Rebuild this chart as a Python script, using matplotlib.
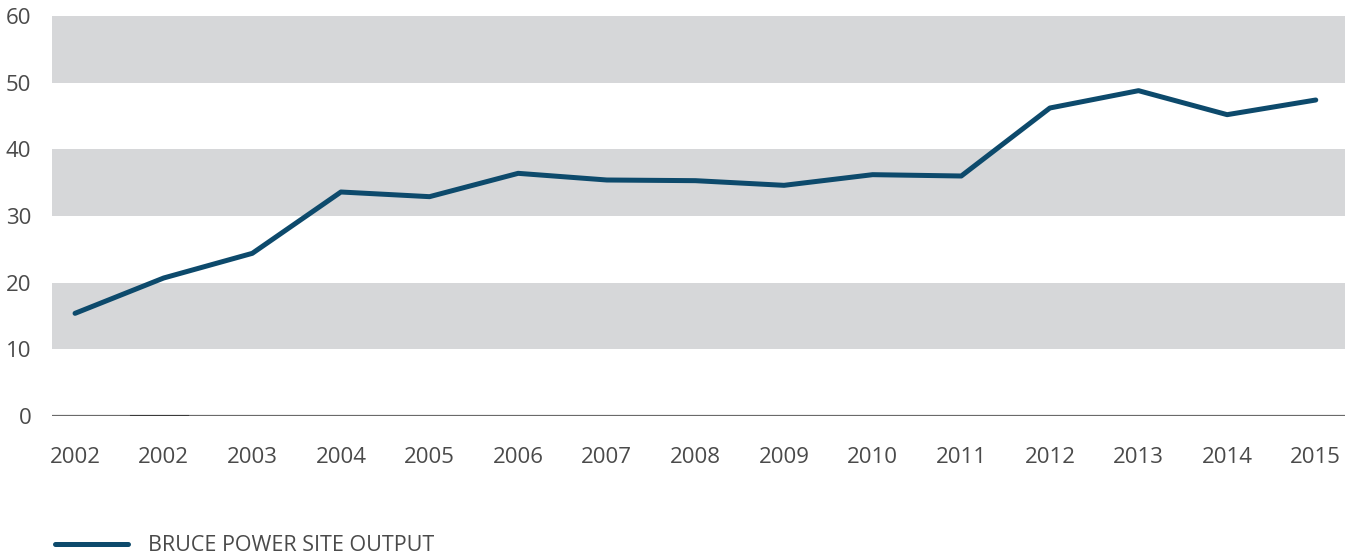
# Bruce Power site output chart

import matplotlib.pyplot as plt
import numpy as np

# ====================== Data ======================
years = ["2002", "2002", "2003", "2004", "2005", "2006", "2007", "2008",
         "2009", "2010", "2011", "2012", "2013", "2014", "2015"]
output = [15.4, 20.7, 24.4, 33.6, 32.9, 36.4, 35.4, 35.3, 34.6, 36.2,
          36.0, 46.2, 48.8, 45.2, 47.4]
bands = [(10, 20), (30, 40), (50, 60)]
yticks = [0, 10, 20, 30, 40, 50, 60]

line_color = "#0d4a6c"
text_color = "#4a4a4a"
band_color = "#d6d7d9"

plt.rcParams['font.family'] = ['Open Sans', 'DejaVu Sans']

# ====================== Plot ======================
fig = plt.figure(figsize=(13.51, 5.54), dpi=100)
W, H = 1351, 554
ax = fig.add_axes([52 / W, 1 - 416 / H, (1345 - 52) / W, 400 / H])

x = np.arange(len(years))
for lo, hi in bands:
    ax.axhspan(lo, hi, color=band_color, lw=0, zorder=0)

ax.plot(x, output, color=line_color, lw=3.6, solid_capstyle="round",
        solid_joinstyle="round", zorder=3, label="BRUCE POWER SITE OUTPUT")

# baseline plus the darker stub under the second tick
ax.axhline(0, color="#6a6a6a", lw=1.6, zorder=2)
ax.plot([0.63, 1.26], [0, 0], color="#3a3a3a", lw=2.2, zorder=2)

ax.set_xlim(-0.26, 14.33)
ax.set_ylim(0, 60)
ax.set_xticks(x)
ax.set_xticklabels(years)
ax.set_yticks(yticks)
ax.tick_params(length=0, labelsize=16, colors=text_color)
ax.tick_params(axis="x", pad=22)
ax.tick_params(axis="y", pad=15)
for s in ax.spines.values():
    s.set_visible(False)

leg = fig.legend(loc="lower left", bbox_to_anchor=(55 / W, -0.004), frameon=False,
                 fontsize=15.5, handlelength=3.4, handletextpad=0.9,
                 borderaxespad=0.0, borderpad=0.0, labelcolor=text_color)

fig.savefig("out.png", dpi=100)
